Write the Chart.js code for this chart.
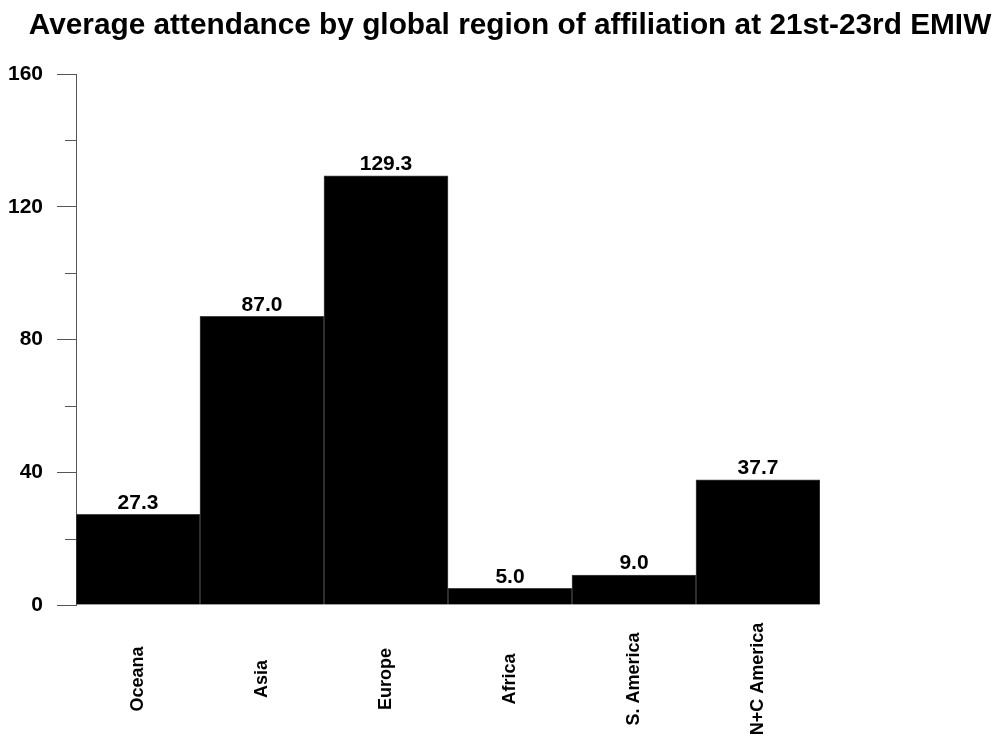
<!DOCTYPE html>
<html>
<head>
<meta charset="utf-8">
<script src="https://cdn.jsdelivr.net/npm/chart.js@4.4.0/dist/chart.umd.min.js"></script>
<style>
  html, body { margin: 0; padding: 0; background: #fff; }
  #wrap { width: 1000px; height: 738px; }
</style>
</head>
<body>
<div id="wrap"><canvas id="chart"></canvas></div>
<script>
// data
var regions = ['Oceana', 'Asia', 'Europe', 'Africa', 'S. America', 'N+C America'];
var attendance = [27.3, 87.0, 129.3, 5.0, 9.0, 37.7];
var majorTicks = [0, 40, 80, 120, 160];
var minorTicks = [20, 60, 100, 140];
var chartTitle = 'Average attendance by global region of affiliation at 21st-23rd EMIW';

var FONT = '"Liberation Sans", Arial, sans-serif';
var AXIS_GREY = '#555';

// title is centred on the whole page, not on the plot area
var titlePlugin = {
  id: 'pageTitle',
  afterDraw: function (chart) {
    var ctx = chart.ctx;
    ctx.save();
    ctx.font = 'bold 29.8px ' + FONT;
    ctx.fillStyle = '#000';
    ctx.textAlign = 'center';
    ctx.textBaseline = 'alphabetic';
    ctx.fillText(chartTitle, 510, 34);
    ctx.restore();
  }
};

// short ticks halfway between the labelled ones
var minorTickPlugin = {
  id: 'minorTicks',
  afterDraw: function (chart) {
    var ctx = chart.ctx;
    var y = chart.scales.y;
    ctx.save();
    ctx.strokeStyle = AXIS_GREY;
    ctx.lineWidth = 1;
    minorTicks.forEach(function (v) {
      var py = Math.round(y.getPixelForValue(v)) + 0.5;
      ctx.beginPath();
      ctx.moveTo(y.right - 11, py);
      ctx.lineTo(y.right, py);
      ctx.stroke();
    });
    ctx.restore();
  }
};

// value above each bar
var valueLabelPlugin = {
  id: 'valueLabels',
  afterDatasetsDraw: function (chart) {
    var ctx = chart.ctx;
    var meta = chart.getDatasetMeta(0);
    ctx.save();
    ctx.font = 'bold 21px ' + FONT;
    ctx.fillStyle = '#000';
    ctx.textAlign = 'center';
    ctx.textBaseline = 'bottom';
    meta.data.forEach(function (bar, i) {
      ctx.fillText(attendance[i].toFixed(1), bar.x, bar.y - 1);
    });
    ctx.restore();
  }
};

// vertical category names, centred under each bar
var categoryLabelPlugin = {
  id: 'categoryLabels',
  afterDraw: function (chart) {
    var ctx = chart.ctx;
    var x = chart.scales.x;
    ctx.save();
    ctx.font = 'bold 18px ' + FONT;
    ctx.fillStyle = '#000';
    ctx.textAlign = 'center';
    ctx.textBaseline = 'middle';
    regions.forEach(function (name, i) {
      ctx.save();
      ctx.translate(x.getPixelForTick(i), 679);
      ctx.rotate(-Math.PI / 2);
      ctx.fillText(name, 0, 0);
      ctx.restore();
    });
    ctx.restore();
  }
};

var ctx = document.getElementById('chart').getContext('2d');
new Chart(ctx, {
  type: 'bar',
  data: {
    labels: regions,
    datasets: [{
      data: attendance,
      backgroundColor: '#000',
      borderColor: '#444',
      borderWidth: 1,
      barPercentage: 1,
      categoryPercentage: 1
    }]
  },
  options: {
    responsive: true,
    maintainAspectRatio: false,
    animation: false,
    layout: { padding: { left: 0, right: 180, top: 74, bottom: 0 } },
    plugins: {
      legend: { display: false },
      tooltip: { enabled: false },
      title: { display: false }
    },
    scales: {
      x: {
        grid: { display: false },
        border: { display: false },
        ticks: { display: false },
        afterFit: function (scale) { scale.height = 133; }
      },
      y: {
        min: 0,
        max: 160,
        afterBuildTicks: function (scale) {
          scale.ticks = majorTicks.map(function (v) { return { value: v }; });
        },
        afterFit: function (scale) { scale.width = 76; },
        grid: {
          drawOnChartArea: false,
          tickLength: 19,
          tickColor: AXIS_GREY,
          tickWidth: 1
        },
        border: { color: AXIS_GREY, width: 1 },
        ticks: {
          color: '#000',
          padding: 14,
          font: { family: FONT, size: 21, weight: 'bold' }
        }
      }
    }
  },
  plugins: [titlePlugin, minorTickPlugin, valueLabelPlugin, categoryLabelPlugin]
});
</script>
</body>
</html>
